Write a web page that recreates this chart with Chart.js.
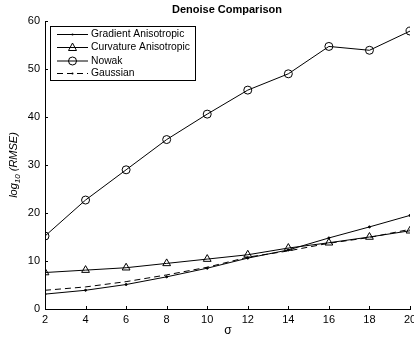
<!DOCTYPE html>
<html>
<head>
<meta charset="utf-8">
<script src="https://cdn.jsdelivr.net/npm/chart.js@4"></script>
<style>
  html,body{margin:0;padding:0;background:#fff;}
  #wrap{width:414px;height:341px;}
</style>
</head>
<body>
<div id="wrap"><canvas id="c" width="414" height="341"></canvas></div>
<script>
// DATA
const sigma=[2,4,6,8,10,12,14,16,18,20];
const gradient=[3.1,3.9,5.1,6.7,8.5,10.6,12.3,14.8,17.1,19.5];
const curvature=[7.6,8.1,8.6,9.5,10.4,11.3,12.7,13.8,15.0,16.3];
const nowak=[15.2,22.7,29.0,35.3,40.6,45.6,49.0,54.7,53.9,57.9];
const gaussian=[3.9,4.6,5.7,7.1,8.7,10.8,12.1,13.7,14.9,16.6];
const seriesNames=["Gradient Anisotropic","Curvature Anisotropic","Nowak","Gaussian"];
const xTicks=[2,4,6,8,10,12,14,16,18,20];
const yTicks=[0,10,20,30,40,50,60];

const FONT='"Liberation Sans", Arial, Helvetica, sans-serif';
Chart.defaults.font.family=FONT;
Chart.defaults.font.size=11;
Chart.defaults.color='#000';

function pts(arr){ return sigma.map((s,i)=>({x:s,y:arr[i]})); }

// inward ticks, title, y label, legend box
const extras={
  id:'extras',
  afterDraw(chart){
    const ctx=chart.ctx, a=chart.chartArea;
    const xs=chart.scales.x, ys=chart.scales.y;
    ctx.save();
    ctx.strokeStyle='#000'; ctx.lineWidth=1;
    ctx.beginPath();
    xTicks.forEach(v=>{ let px=Math.round(xs.getPixelForValue(v))+0.5; ctx.moveTo(px,a.bottom); ctx.lineTo(px,a.bottom-3); });
    yTicks.forEach(v=>{ let py=Math.round(ys.getPixelForValue(v))+0.5; ctx.moveTo(a.left,py); ctx.lineTo(a.left+3,py); });
    ctx.stroke();

    // title
    ctx.fillStyle='#000';
    ctx.font='bold 11px '+FONT;
    ctx.textAlign='center'; ctx.textBaseline='middle';
    ctx.fillText('Denoise Comparison',227,10);

    // x label
    ctx.font='12px '+FONT;
    ctx.fillText('σ',228,331);

    // y label with subscript
    ctx.save();
    ctx.translate(14,165);
    ctx.rotate(-Math.PI/2);
    let p1='log', p3=' (RMSE)';
    ctx.font='italic 8px '+FONT; let w2=ctx.measureText('10').width;
    ctx.font='italic 11px '+FONT;
    let w1=ctx.measureText(p1).width, w3=ctx.measureText(p3).width;
    let x0=-(w1+w2+w3)/2;
    ctx.textAlign='left';
    ctx.fillText(p1,x0,0);
    ctx.font='italic 8px '+FONT;
    ctx.fillText('10',x0+w1,4);
    ctx.font='italic 11px '+FONT;
    ctx.fillText(p3,x0+w1+w2,0);
    ctx.restore();

    // legend
    ctx.fillStyle='#fff';
    ctx.fillRect(50.5,26.5,145,54);
    ctx.strokeRect(50.5,26.5,145,54);
    const rows=[34,47,60.5,73];
    chart.data.datasets.forEach((ds,i)=>{
      let y=rows[i]+0.5;
      ctx.save();
      ctx.strokeStyle='#000'; ctx.lineWidth=1;
      ctx.setLineDash(ds.borderDash||[]);
      ctx.beginPath(); ctx.moveTo(57,y); ctx.lineTo(88,y); ctx.stroke();
      ctx.setLineDash([]);
      if(ds.pointStyle==='triangle'){
        ctx.beginPath(); ctx.moveTo(72.5,y-4.5); ctx.lineTo(76.5,y+3); ctx.lineTo(68.5,y+3); ctx.closePath(); ctx.stroke();
      } else if(ds.pointStyle==='circle' && ds.pointRadius>2){
        ctx.beginPath(); ctx.arc(72.5,y,ds.pointRadius,0,Math.PI*2); ctx.stroke();
      } else {
        ctx.fillStyle='#000'; ctx.beginPath(); ctx.arc(72.5,y,1,0,Math.PI*2); ctx.fill();
      }
      ctx.restore();
      ctx.fillStyle='#000';
      ctx.font='10.3px '+FONT;
      ctx.textAlign='left'; ctx.textBaseline='middle';
      ctx.fillText(ds.label,91,y);
    });
    ctx.restore();
  }
};

new Chart(document.getElementById('c'),{
  type:'line',
  data:{
    datasets:[
      {label:seriesNames[0],data:pts(gradient),borderColor:'#000',borderWidth:1,pointStyle:'circle',pointRadius:1,pointBackgroundColor:'#000',pointBorderColor:'#000',tension:0},
      {label:seriesNames[1],data:pts(curvature),borderColor:'#000',borderWidth:1,pointStyle:'triangle',pointRadius:4.5,pointBackgroundColor:'rgba(0,0,0,0)',pointBorderColor:'#000',pointBorderWidth:1,tension:0},
      {label:seriesNames[2],data:pts(nowak),borderColor:'#000',borderWidth:1,pointStyle:'circle',pointRadius:4,pointBackgroundColor:'rgba(0,0,0,0)',pointBorderColor:'#000',pointBorderWidth:1,tension:0},
      {label:seriesNames[3],data:pts(gaussian),borderColor:'#000',borderWidth:1,borderDash:[6,4],pointRadius:0,tension:0}
    ]
  },
  options:{
    responsive:false,
    animation:false,
    devicePixelRatio:1,
    layout:{padding:{top:21,right:4,left:0,bottom:0},autoPadding:false},
    plugins:{legend:{display:false},title:{display:false},tooltip:{enabled:false}},
    scales:{
      x:{
        type:'linear',min:2,max:20,
        afterBuildTicks(s){ s.ticks=xTicks.map(v=>({value:v})); },
        afterFit(s){ s.height=32; s.paddingLeft=0; s.paddingRight=0; },
        grid:{display:false,drawTicks:false},
        border:{display:true,color:'#000',width:1},
        ticks:{padding:4,maxRotation:0,autoSkip:false,font:{size:11}}
      },
      y:{
        type:'linear',min:0,max:60,
        afterBuildTicks(s){ s.ticks=yTicks.map(v=>({value:v})); },
        afterFit(s){ s.width=45; s.paddingTop=0; s.paddingBottom=0; },
        grid:{display:false,drawTicks:false},
        border:{display:true,color:'#000',width:1},
        ticks:{padding:5,font:{size:11}}
      }
    }
  },
  plugins:[extras]
});
</script>
</body>
</html>
